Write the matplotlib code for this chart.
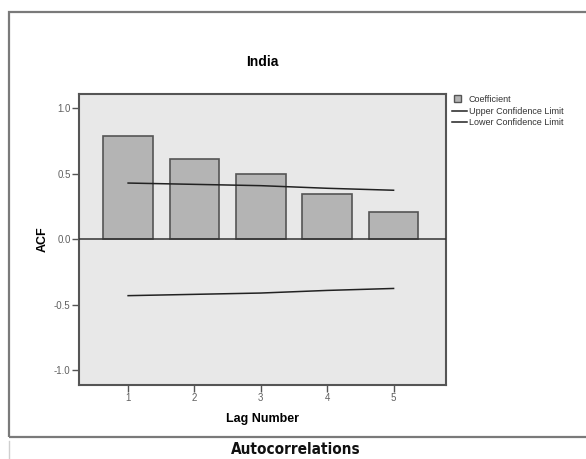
import matplotlib
matplotlib.use("Agg")
import matplotlib.pyplot as plt
from matplotlib.patches import Rectangle
from matplotlib.lines import Line2D
from matplotlib.legend_handler import HandlerPatch
from matplotlib import font_manager

# Autocorrelation function for the India series
lags = [1, 2, 3, 4, 5]
acf = [0.79, 0.61, 0.50, 0.35, 0.21]
upper_limit = [0.43, 0.42, 0.41, 0.39, 0.375]
lower_limit = [-0.43, -0.42, -0.41, -0.39, -0.375]
yticks = [-1.0, -0.5, 0.0, 0.5, 1.0]

plt.rcParams["font.family"] = ["Liberation Sans", "DejaVu Sans"]
plt.rcParams["axes.unicode_minus"] = False

W, H = 586, 459
fig = plt.figure(figsize=(W / 100, H / 100), dpi=100)
fig.patch.set_facecolor("white")

# outer chart frame (runs off the right edge)
fig.patches.append(Rectangle((9 / W, 1 - 437 / H), 1.0, (437 - 12) / H,
                             transform=fig.transFigure, fill=False,
                             edgecolor="#7a7a7a", lw=1.6, clip_on=False))
fig.lines.append(Line2D([9 / W, 9 / W], [0, 1 - 441 / H],
                        transform=fig.transFigure, color="#cfcfcf", lw=1))

ax = fig.add_axes([79 / W, 1 - 384.7 / H, (446 - 79) / W, (384.7 - 94) / H])
ax.set_facecolor("#e8e8e8")

BAR_FACE, BAR_EDGE = "#b4b4b4", "#555555"
ax.bar(lags, acf, width=0.75, color=BAR_FACE, edgecolor=BAR_EDGE,
       lw=1.2, zorder=2)
ax.axhline(0, color="#333333", lw=1.1, zorder=3)
up, = ax.plot(lags, upper_limit, color="#222222", lw=1.1, zorder=4,
              label="Upper Confidence Limit")
lo, = ax.plot(lags, lower_limit, color="#222222", lw=1.1, zorder=4,
              label="Lower Confidence Limit")

ax.set_xlim(0.26, 5.79)
ax.set_ylim(-1.11, 1.11)
ax.set_xticks(lags)
ax.set_yticks(yticks)
ax.set_yticklabels([f"{v:.1f}" for v in yticks])

for s in ax.spines.values():
    s.set_color("#555555")
    s.set_linewidth(1.5)
ax.tick_params(axis="both", direction="out", length=5, width=1,
               color="#555555", labelsize=7, labelcolor="#606060", pad=1)

ax.set_title("India", fontsize=10, fontweight="bold", pad=20)
ax.set_xlabel("Lag Number", fontsize=9, fontweight="bold", labelpad=7)
ax.set_ylabel("ACF", fontsize=9, fontweight="bold", labelpad=3.5)


def small_square(legend, orig_handle, xdescent, ydescent, width, height, fontsize):
    s = 7 * 72 / 100
    return Rectangle((-xdescent + 1.2, -ydescent + (height - s) / 2), s, s)


coef_handle = Rectangle((0, 0), 1, 1, facecolor=BAR_FACE, edgecolor=BAR_EDGE,
                        lw=1.0, label="Coefficient")
leg = ax.legend(handles=[coef_handle, up, lo], loc="upper left",
                bbox_to_anchor=(452 / W, 1 - 95 / H),
                bbox_transform=fig.transFigure, frameon=False, fontsize=6.5,
                handlelength=1.7, handletextpad=0.15, labelspacing=0.3,
                borderpad=0, borderaxespad=0,
                handler_map={Rectangle: HandlerPatch(patch_func=small_square)})
for t in leg.get_texts():
    t.set_color("#333333")

# caption beneath the frame, condensed bold
fonts = font_manager.fontManager.ttflist
names = {f.name for f in fonts}
cap_kw = dict(family="Liberation Sans", fontsize=10.5)
if "Liberation Sans Narrow" in names:
    cap_kw = dict(family="Liberation Sans Narrow", fontsize=13.5)
elif any(f.name == "DejaVu Sans" and f.stretch == "condensed" for f in fonts):
    cap_kw = dict(family="DejaVu Sans", stretch="condensed", fontsize=11)
fig.text(296 / W, 1 - 450 / H, "Autocorrelations", ha="center", va="center",
         fontweight="bold", color="#111111", **cap_kw)

fig.savefig("out.png", dpi=100)
